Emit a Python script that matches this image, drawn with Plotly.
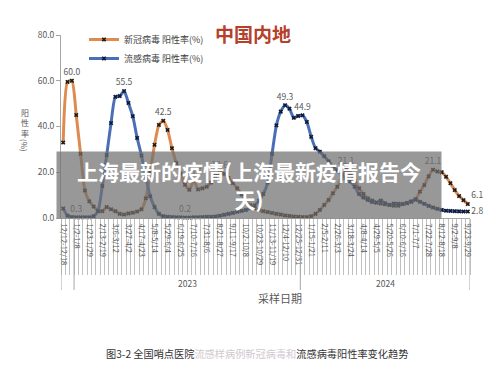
import plotly.graph_objects as go

# ---------------- data ----------------
covid = [33.0, 59.5, 60.0, 45.0, 28.0, 12.0, 7.3, 5.0, 3.2, 3.0,
         4.8, 3.8, 3.0, 1.8, 1.5, 2.0, 2.3, 2.8, 3.8, 8.6,
         20.0, 32.0, 40.7, 42.5, 38.5, 30.5, 24.0, 19.5, 14.5, 12.3,
         16.5, 12.5, 13.0, 13.7, 15.5, 18.5, 19.6, 19.3, 17.5, 15.3,
         13.0, 10.3, 7.6, 5.6, 4.3, 3.5, 3.0, 2.6, 2.2, 1.8,
         1.5, 1.1, 0.9, 0.6, 0.5, 0.4, 0.4, 0.8, 1.8, 3.5,
         5.7, 7.9, 10.8, 13.7, 17.4, 21.1, 19.5, 16.3, 13.0, 10.5,
         8.6, 7.6, 6.8, 6.3, 6.0, 5.7, 5.4, 5.4, 6.1, 6.4,
         7.0, 8.2, 11.5, 14.4, 18.2, 21.1, 20.3, 20.0, 18.0, 15.2,
         12.2, 9.6, 7.8, 6.1]
flu = [4.2, 1.0, 0.4, 0.3, 0.3, 0.3, 0.3, 0.8, 3.0, 14.0,
       27.5, 41.5, 53.0, 53.3, 55.5, 50.3, 44.5, 35.0, 27.3, 18.0,
       9.5, 4.8, 1.8, 0.8, 0.5, 0.4, 0.3, 0.3, 0.2, 0.2,
       0.3, 0.3, 0.4, 0.5, 0.5, 0.7, 1.0, 1.4, 1.8, 2.2,
       2.7, 3.1, 3.5, 4.3, 5.5, 7.5, 10.5, 15.5, 28.0, 40.5,
       46.5, 49.3, 47.8, 43.8, 44.6, 44.9, 42.0, 35.5, 30.5, 29.0,
       27.0, 24.8, 22.5, 20.8, 19.0, 17.5, 16.0, 13.7, 10.5, 9.0,
       7.9, 7.0, 6.7, 7.6, 6.4, 5.7, 6.3, 6.2, 6.1, 6.6,
       7.3, 8.0, 7.1, 6.2, 5.3, 4.6, 4.0, 3.5, 3.2, 3.1,
       3.0, 2.9, 2.8, 2.8]

covid_label_idx = [2, 23, 30, 36, 65, 85, 93]
flu_label_idx = [3, 14, 28, 51, 55, 93]

tick_labels = ["12/12-12/18", "1/2-1/8", "1/23-1/29", "2/13-2/19", "3/6-3/12",
               "3/27-4/2", "4/17-4/23", "5/8-5/14", "5/29-6/4", "6/19-6/25",
               "7/10-7/16", "7/31-8/6", "8/21-8/27", "9/11-9/17", "10/2-10/8",
               "10/23-10/29", "11/13-11/19", "12/4-12/10", "12/25-12/31",
               "1/15-1/21", "2/5-2/11", "2/26-3/3", "3/18-3/24", "4/8-4/14",
               "4/29-5/5", "5/20-5/26", "6/10-6/16", "7/1-7/7", "7/22-7/28",
               "8/12-8/18", "9/2-9/8", "9/23-9/29"]
tick_step = 3
year_names = ["", "2023", "2024"]
year_bounds = [-0.5, 2.5, 54.5, 93.5]

# ---------------- figure ----------------
W, H = 500, 371
L, R, T, B = 61, 29.5, 35, 153
pw, ph = W - L - R, H - T - B


def px_x(p):
    return (p - L) / pw


def px_y(p):
    return (H - B - p) / ph


weeks = list(range(len(covid)))
ORANGE = "#DF8A4E"
BLUE = "#4A6FB6"
GRAY = "#595959"


def labels(vals, idx):
    return [f"{v:.1f}" if i in idx else "" for i, v in enumerate(vals)]


def positions(vals, endpos):
    return ["top center" if i < len(vals) - 1 else endpos for i in range(len(vals))]


fig = go.Figure()
fig.add_trace(go.Scatter(
    x=weeks, y=covid, name="新冠病毒 阳性率(%)",
    mode="lines+markers+text",
    line=dict(color=ORANGE, width=3, shape="spline", smoothing=0.6),
    marker=dict(symbol="x", size=4, color="#1b1b1b"),
    text=labels(covid, covid_label_idx),
    textposition=positions(covid, "top right"),
    textfont=dict(size=8.5, color=GRAY),
    cliponaxis=False,
))
fig.add_trace(go.Scatter(
    x=weeks, y=flu, name="流感病毒 阳性率(%)",
    mode="lines+markers+text",
    line=dict(color=BLUE, width=3, shape="spline", smoothing=0.6),
    marker=dict(symbol="x", size=4, color="#101a33"),
    text=labels(flu, flu_label_idx),
    textposition=positions(flu, "middle right"),
    textfont=dict(size=8.5, color=GRAY),
    cliponaxis=False,
))

fig.update_xaxes(
    range=[year_bounds[0], year_bounds[-1]],
    tickmode="array",
    tickvals=weeks[::tick_step],
    ticktext=tick_labels,
    tickangle=90,
    ticks="",
    ticklabelstandoff=3,
    tickfont=dict(size=7.5, color=GRAY),
    showline=True, linecolor="#A6A6A6", linewidth=1,
    showgrid=False, zeroline=False,
    minor=dict(ticks="outside", ticklen=56, tickcolor="#C0C0C0", tickwidth=1,
               tickmode="linear", tick0=-0.5, dtick=1, showgrid=False),
)
fig.update_yaxes(
    range=[0, 80], dtick=20, tickformat=".1f",
    ticks="outside", ticklen=4, tickcolor="#A6A6A6",
    tickfont=dict(size=8.5, color=GRAY),
    showline=True, linecolor="#A6A6A6", linewidth=1,
    showgrid=False, zeroline=False,
)

shapes = []
for b in year_bounds:
    shapes.append(dict(type="line", xref="x", yref="paper", x0=b, x1=b,
                       y0=0, y1=px_y(290), line=dict(color="#A6A6A6", width=1)))

C = dict(xanchor="center", yanchor="middle", showarrow=False)
ann = []
for name, a, b in zip(year_names, year_bounds[:-1], year_bounds[1:]):
    if name:
        ann.append(dict(x=(a + b) / 2, y=px_y(283), xref="x", yref="paper",
                        text=name, font=dict(size=8.5, color=GRAY), **C))

ann += [
    dict(x=px_x(253), y=px_y(33), xref="paper", yref="paper", text="<b>中国内地</b>",
         font=dict(size=19, color="#B5402C", family="Noto Sans CJK SC"), **C),
    dict(x=px_x(280), y=px_y(298), xref="paper", yref="paper", text="采样日期",
         font=dict(size=11, color=GRAY, family="Noto Sans CJK SC"), **C),
    dict(x=px_x(25), y=px_y(123), xref="paper", yref="paper", text="阳<br>性<br>率",
         font=dict(size=8, color=GRAY, family="Noto Sans CJK SC"), **C),
    dict(x=px_x(25), y=px_y(145), xref="paper", yref="paper", text="(%)", textangle=90,
         font=dict(size=8, color=GRAY, family="Noto Sans CJK SC"), **C),
    dict(x=px_x(249), y=px_y(185), xref="paper", yref="paper",
         text="<b>上海最新的疫情(上海最新疫情报告今<br>天)</b>",
         width=384, height=66, bgcolor="rgba(112,112,112,0.72)",
         borderpad=0, align="center",
         font=dict(size=21, color="white", family="Noto Sans CJK SC"), **C),
    dict(x=px_x(257.5), y=px_y(353), xref="paper", yref="paper",
         text="图3-2 全国哨点医院<span style='color:#CFC9CF'>流感样病例新冠病毒和</span>流感病毒阳性率变化趋势",
         font=dict(size=10.2, color="#333333", family="Noto Sans CJK SC"), **C),
]

fig.update_layout(
    width=W, height=H,
    margin=dict(l=L, r=R, t=T, b=B, pad=0),
    paper_bgcolor="white", plot_bgcolor="white",
    font=dict(family="Noto Sans CJK SC, Noto Sans, sans-serif", color=GRAY),
    showlegend=True,
    legend=dict(x=px_x(84), y=px_y(25), xanchor="left", yanchor="top",
                bgcolor="rgba(0,0,0,0)", font=dict(size=9, color="#404040"),
                itemwidth=30, tracegroupgap=0),
    shapes=shapes,
    annotations=ann,
)

fig.write_html("out.html")
